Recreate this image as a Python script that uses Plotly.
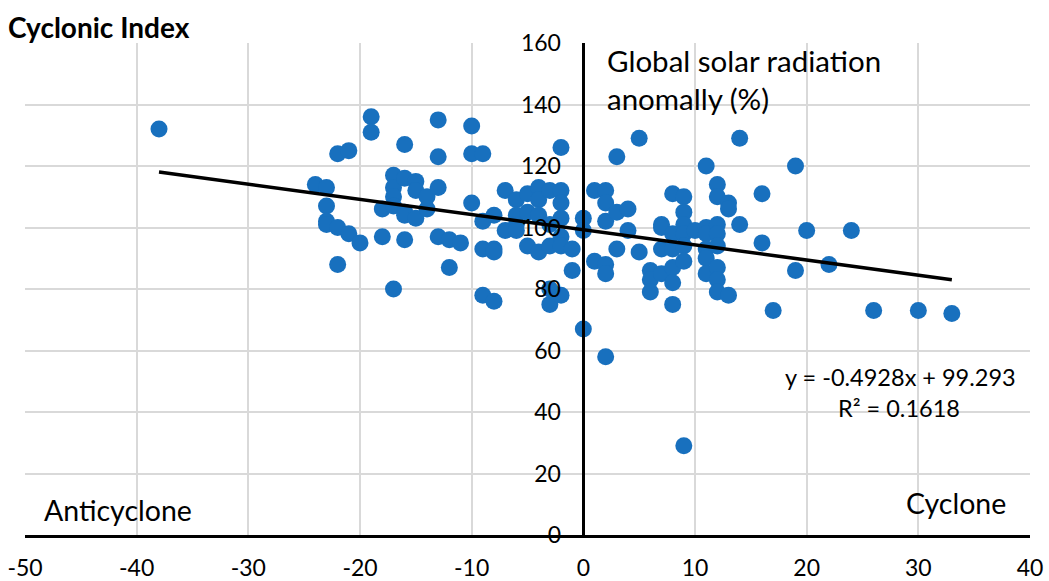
import plotly.graph_objects as go

# Cyclonic index (x) and global solar radiation anomaly in % (y)
cyclonic_index = [
    -38,
    -24, -23, -23, -23, -23,
    -22, -22, -22, -21, -21, -20,
    -19, -19, -18, -18,
    -17, -17, -17, -17, -17,
    -16, -16, -16, -16, -16,
    -15, -15, -15, -14, -14,
    -13, -13, -13, -13, -12, -12, -11,
    -10, -10, -10, -9, -9, -9, -9,
    -8, -8, -8, -8, -7, -7,
    -6, -6, -6, -6, -5, -5, -5,
    -4, -4, -4, -4, -3, -3, -3, -3, -3,
    -2, -2, -2, -2, -2, -2, -2,
    -1, -1, 0, 0, 0,
    1, 1, 2, 2, 2, 2, 2, 2,
    3, 3, 3, 4, 4, 5, 5,
    6, 6, 6, 7, 7, 7, 7,
    8, 8, 8, 8, 8, 8,
    9, 9, 9, 9, 9, 9, 9, 10,
    11, 11, 11, 11, 11, 11,
    12, 12, 12, 12, 12, 12, 12, 12,
    13, 13, 13, 14, 14, 16, 16, 17,
    19, 19, 20, 22, 24, 26, 30, 33,
]
radiation_anomaly = [
    132,
    114, 113, 107, 102, 101,
    124, 100, 88, 125, 98, 95,
    136, 131, 106, 97,
    117, 113, 110, 107, 80,
    127, 116, 105, 104, 96,
    115, 112, 103, 110, 106,
    135, 123, 113, 97, 96, 87, 95,
    133, 124, 108, 124, 102, 93, 78,
    104, 93, 92, 76, 112, 99,
    109, 104, 101, 99, 111, 105, 94,
    113, 109, 104, 92, 112, 101, 94, 80, 75,
    126, 112, 108, 103, 97, 94, 78,
    93, 86, 103, 99, 67,
    112, 89, 112, 108, 102, 88, 85, 58,
    123, 105, 93, 106, 99, 129, 92,
    86, 83, 79, 101, 100, 93, 85,
    111, 98, 93, 87, 82, 75,
    110, 105, 101, 98, 94, 89, 29, 99,
    120, 100, 98, 93, 90, 85,
    114, 110, 101, 98, 94, 87, 83, 79,
    108, 106, 78, 129, 101, 111, 95, 73,
    120, 86, 99, 88, 99, 73, 73, 72,
]

# Linear trend reported on the chart
trend_slope = -0.4928
trend_intercept = 99.293
trend_x = [-38, 33]
trend_y = [trend_slope * v + trend_intercept for v in trend_x]

x_ticks = [-50, -40, -30, -20, -10, 0, 10, 20, 30, 40]
y_ticks = [0, 20, 40, 60, 80, 100, 120, 140, 160]

FONT = "Lato"

fig = go.Figure()
fig.add_trace(go.Scatter(
    x=cyclonic_index, y=radiation_anomaly, mode="markers",
    marker=dict(size=17, color="#1870BE", line=dict(width=0)),
    showlegend=False, hoverinfo="x+y",
))
fig.add_trace(go.Scatter(
    x=trend_x, y=trend_y, mode="lines",
    line=dict(color="black", width=3.5), showlegend=False, hoverinfo="skip",
))

fig.update_layout(
    width=1049, height=581,
    margin=dict(l=25, r=19, t=43, b=46, autoexpand=False),
    paper_bgcolor="white", plot_bgcolor="white",
    font=dict(family=FONT, size=23, color="black"),
    xaxis=dict(
        range=[-50, 40], tickvals=x_ticks, ticktext=[str(v) for v in x_ticks],
        showgrid=True, gridcolor="#d9d9d9", gridwidth=2,
        zeroline=False, showline=True, linecolor="black", linewidth=2.5,
        ticks="", ticklabelstandoff=11, tickfont=dict(size=23, family=FONT),
        automargin=False,
    ),
    yaxis=dict(
        range=[0, 160], tickvals=y_ticks, ticktext=[str(v) for v in y_ticks],
        showgrid=True, gridcolor="#d9d9d9", gridwidth=2,
        zeroline=False, showline=True, linecolor="black", linewidth=2.5,
        anchor="free", position=5 / 9,
        ticks="", ticklabelstandoff=17, tickfont=dict(size=23, family=FONT),
        automargin=False,
    ),
)

annotations = [
    dict(text="<b>Cyclonic Index</b>", xref="paper", yref="paper",
         x=-19 / 1005, y=1 + 16 / 492, xanchor="left", yanchor="middle",
         font=dict(size=28, family=FONT)),
    dict(text="Global solar radiation", xref="x", yref="y", x=1.9, y=154.2,
         xanchor="left", yanchor="middle", font=dict(size=29.5, family=FONT)),
    dict(text="anomally (%)", xref="x", yref="y", x=1.9, y=142.0,
         xanchor="left", yanchor="middle", font=dict(size=29.5, family=FONT)),
    dict(text="Anticyclone", xref="x", yref="y", x=-48.5, y=8.1,
         xanchor="left", yanchor="middle", font=dict(size=28.5, family=FONT)),
    dict(text="Cyclone", xref="x", yref="y", x=38.0, y=10.4,
         xanchor="right", yanchor="middle", font=dict(size=28.5, family=FONT)),
    dict(text="y = -0.4928x + 99.293", xref="x", yref="y", x=38.9, y=51.4,
         xanchor="right", yanchor="middle", font=dict(size=23.5, family=FONT)),
    dict(text="R² = 0.1618", xref="x", yref="y", x=28.3, y=41.3,
         xanchor="center", yanchor="middle", font=dict(size=23.5, family=FONT)),
]
for a in annotations:
    a["showarrow"] = False
    fig.add_annotation(**a)

fig.write_html("out.html")
